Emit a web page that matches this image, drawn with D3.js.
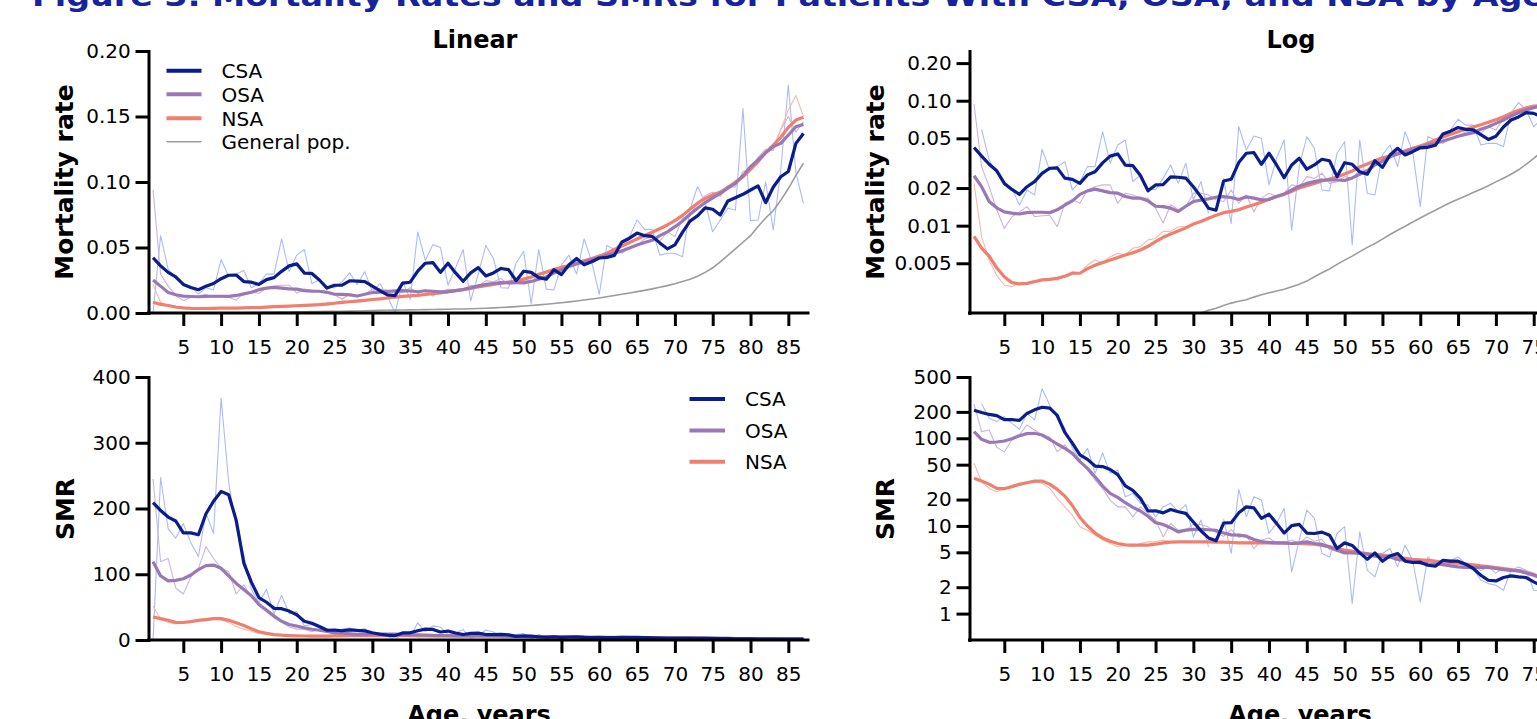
<!DOCTYPE html>
<html><head><meta charset="utf-8">
<script src="https://cdn.jsdelivr.net/npm/d3@7"></script>
<style>
body{margin:0;background:#fff;}
svg{display:block;}
text{font-family:"DejaVu Sans",Verdana,sans-serif;}
</style>
</head><body>
<svg id="chart" width="1537" height="719"></svg>
<script>
// ---------------- DATA ----------------
const titleText = "Figure 3. Mortality Rates and SMRs for Patients With CSA, OSA, and NSA by Age";
const ages = [1,2,3,4,5,6,7,8,9,10,11,12,13,14,15,16,17,18,19,20,21,22,23,24,25,26,27,28,29,30,
  31,32,33,34,35,36,37,38,39,40,41,42,43,44,45,46,47,48,49,50,51,52,53,54,55,56,57,58,59,60,
  61,62,63,64,65,66,67,68,69,70,71,72,73,74,75,76,77,78,79,80,81,82,83,84,85,86,87];
const xTicks = [5,10,15,20,25,30,35,40,45,50,55,60,65,70,75,80,85];

const csaRate = [0.0422,0.0360,0.0310,0.0275,0.0218,0.0195,0.0178,0.0205,0.0225,0.0262,
 0.0288,0.0290,0.0240,0.0235,0.0218,0.0255,0.0270,0.0318,0.0360,0.0375,
 0.0305,0.0302,0.0252,0.0190,0.0212,0.0213,0.0246,0.0244,0.0240,0.0205,
 0.0170,0.0138,0.0133,0.0228,0.0235,0.0320,0.0380,0.0385,0.0310,0.0380,
 0.0306,0.0242,0.0306,0.0346,0.0283,0.0306,0.0340,0.0331,0.0247,0.0319,
 0.0310,0.0270,0.0258,0.0331,0.0293,0.0368,0.0416,0.0368,0.0391,0.0420,
 0.0424,0.0440,0.0542,0.0571,0.0610,0.0590,0.0585,0.0535,0.0490,0.0520,
 0.0616,0.0701,0.0742,0.0802,0.0792,0.0748,0.0855,0.0880,0.0906,0.0939,
 0.0970,0.0842,0.0960,0.1040,0.1080,0.1295,0.1370];
const csaRateRaw = [0,0.0590,0.0335,0.0262,0.0225,0.0199,0.0146,0.0193,0.0176,0.0408,
 0.0279,0.0297,0.0325,0.0193,0.0225,0.0297,0.0297,0.0565,0.0316,0.0442,
 0.0485,0.0225,0.0254,0.0199,0.0193,0.0239,0.0306,0.0218,0.0316,0.0161,
 0.0225,0.0126,0,0.0240,0.0104,0.0620,0.0403,0.0522,0.0500,0.0212,
 0.0346,0.0485,0.0092,0.0297,0.0516,0.0416,0.0193,0.0190,0.0380,0.0470,
 0.0070,0.0485,0.0182,0.0176,0.0368,0.0442,0.0297,0.0565,0.0391,0.0142,
 0.0516,0.0485,0.0548,0.0583,0.0710,0.0638,0.0638,0.0442,0.0456,0.0456,
 0.0429,0.0793,0.0966,0.0843,0.0620,0.0710,0.0800,0.0786,0.1560,0.0705,
 0.0710,0.1000,0.0634,0.1090,0.1740,0.1070,0.0837];
const osaRate = [0.0251,0.0205,0.0156,0.0139,0.0129,0.0126,0.0124,0.0127,0.0128,0.0128,
 0.0127,0.0134,0.0146,0.0158,0.0178,0.0190,0.0196,0.0190,0.0184,0.0182,
 0.0171,0.0166,0.0166,0.0158,0.0143,0.0142,0.0138,0.0130,0.0143,0.0156,
 0.0160,0.0164,0.0169,0.0171,0.0168,0.0162,0.0170,0.0166,0.0161,0.0162,
 0.0171,0.0179,0.0193,0.0207,0.0218,0.0225,0.0232,0.0232,0.0232,0.0230,
 0.0241,0.0258,0.0275,0.0306,0.0329,0.0356,0.0375,0.0391,0.0408,0.0424,
 0.0442,0.0456,0.0476,0.0497,0.0519,0.0538,0.0555,0.0591,0.0619,0.0659,
 0.0701,0.0754,0.0800,0.0843,0.0879,0.0913,0.0952,0.0990,0.1048,0.1117,
 0.1168,0.1224,0.1270,0.1295,0.1359,0.1422,0.1440];
const osaRateRaw = [0.0940,0.0297,0.0205,0.0134,0.0095,0.0118,0.0129,0.0142,0.0118,0.0120,
 0.0121,0.0098,0.0151,0.0161,0.0151,0.0193,0.0205,0.0212,0.0212,0.0151,
 0.0182,0.0176,0.0166,0.0166,0.0138,0.0105,0.0147,0.0134,0.0142,0.0182,
 0.0182,0.0176,0.0161,0.0156,0.0193,0.0151,0.0176,0.0129,0.0166,0.0182,
 0.0171,0.0182,0.0212,0.0205,0.0247,0.0239,0.0263,0.0218,0.0225,0.0247,
 0.0239,0.0279,0.0279,0.0325,0.0356,0.0346,0.0403,0.0380,0.0416,0.0442,
 0.0429,0.0470,0.0456,0.0500,0.0516,0.0565,0.0583,0.0548,0.0620,0.0583,
 0.0723,0.0745,0.0843,0.0895,0.0922,0.0890,0.0970,0.0960,0.1080,0.1100,
 0.1190,0.1250,0.1240,0.1400,0.1500,0.1380,0.1460];
const nsaRate = [0.0082,0.0066,0.0057,0.0046,0.0039,0.0035,0.00342,0.00345,0.00356,0.00368,
 0.00372,0.00379,0.00394,0.00416,0.00416,0.00453,0.00482,0.00506,0.00531,0.00555,
 0.00583,0.00608,0.00639,0.00684,0.00745,0.00807,0.00858,0.00907,0.0096,0.0103,
 0.0108,0.01146,0.0121,0.0127,0.0130,0.0134,0.0141,0.0147,0.0154,0.0163,
 0.0171,0.0178,0.0188,0.0200,0.0209,0.0218,0.0228,0.0236,0.0245,0.0259,
 0.0274,0.0295,0.0312,0.0331,0.0350,0.0361,0.0380,0.0398,0.0416,0.0434,
 0.0456,0.0485,0.0512,0.0538,0.0565,0.0591,0.0616,0.0643,0.0672,0.0705,
 0.0745,0.0793,0.0838,0.0874,0.0902,0.0921,0.0960,0.0998,0.1040,0.1097,
 0.1155,0.1224,0.1282,0.1341,0.1417,0.1473,0.1494];
const nsaRateRaw = [0.0218,0.00817,0.00531,0.0040,0.00335,0.00325,0.00346,0.0035,0.00363,0.00368,
 0.00379,0.00368,0.0039,0.00429,0.00416,0.00485,0.00531,0.0050,0.00565,0.0060,
 0.00584,0.0066,0.0068,0.0077,0.0079,0.0090,0.0090,0.0098,0.0098,0.0105,
 0.0106,0.0117,0.0119,0.0130,0.0127,0.0137,0.0139,0.0150,0.0152,0.0166,
 0.0169,0.0181,0.0185,0.0204,0.0206,0.0222,0.0225,0.0240,0.0242,0.0263,
 0.0270,0.0299,0.0308,0.0336,0.0346,0.0366,0.0376,0.0403,0.0412,0.0440,
 0.0451,0.0491,0.0506,0.0545,0.0559,0.0598,0.0610,0.0651,0.0665,0.0714,
 0.0737,0.0802,0.0829,0.0884,0.0893,0.0935,0.0950,0.1012,0.1030,0.1110,
 0.1145,0.1238,0.1270,0.1400,0.1550,0.1660,0.1500];
const genPop = [0.00020,0.00018,0.00017,0.00015,0.00014,0.00012,0.00011,0.00011,0.00011,0.00012,
 0.00013,0.00016,0.00021,0.00027,0.00035,0.00045,0.00056,0.00068,0.00080,0.00091,
 0.00100,0.00108,0.00115,0.00122,0.00130,0.00138,0.00146,0.00155,0.00170,0.00185,
 0.00200,0.00210,0.00218,0.00230,0.00240,0.00248,0.00255,0.00268,0.00280,0.00290,
 0.00300,0.00310,0.00325,0.00340,0.00360,0.00390,0.00420,0.00450,0.00490,0.00530,
 0.00570,0.00620,0.00670,0.00720,0.00780,0.00850,0.00920,0.00990,0.01070,0.01150,
 0.01240,0.01330,0.01430,0.01530,0.01630,0.01730,0.01840,0.01960,0.02090,0.02240,
 0.02400,0.02580,0.02800,0.03100,0.03450,0.03900,0.04400,0.04900,0.05400,0.05900,
 0.06600,0.07250,0.07800,0.08600,0.09500,0.10500,0.11430];

const csaSmr = [209,197,187,181,163,163,160,192,211,226,
 221,182,117,88,64.6,57.4,48.2,47.6,44,38.5,
 28.6,25.5,20.6,14.8,14.9,14.1,15.4,14.5,13.9,11.1,
 8.8,7.3,6.76,10.8,10.9,14.1,16.5,16.1,12.2,13.6,
 10.7,8.3,10.1,10.4,8.3,8.2,8.5,7.85,5.53,6.41,
 5.99,4.93,4.17,4.93,3.96,4.55,4.85,3.96,3.83,3.86,
 3.56,3.47,4.06,3.96,3.96,3.66,3.27,2.74,2.4,2.36,
 2.58,2.69,2.62,2.58,2.3,2.1,2.0,1.85,1.7,1.6,
 1.5,1.25,1.3,1.25,1.2,1.3,1.25];
const csaSmrRaw = [0,247,169,155,177,148,127,193,162,368,
 240,170,130,77,56.5,77,39.8,68,39.8,43.4,
 21.5,23.5,18.1,17.3,12.7,16.5,18.1,14.5,17.5,7.5,
 11.7,5.8,0,12,4.85,26.1,12.7,21.5,19.7,8.2,
 10.7,15.8,2.99,6.9,15.2,12.2,4.85,4.43,8.2,9.8,
 1.3,8.6,3.12,2.62,4.85,5.53,3.41,6.04,4.06,1.36,
 4.43,3.73,3.73,4.06,4.43,3.73,3.27,2.4,2.2,2.11,
 1.85,3.12,3.41,3.12,1.85,1.82,1.82,1.6,2.89,1.19,
 1.08,1.38,0.81,1.27,1.83,1.02,0.73];
const osaSmr = [119,97.4,90,90.7,93.1,98.9,107,113,114,109,
 97.4,86,76.9,67.4,54.1,45.4,36.4,28.5,23.5,21.2,
 18.4,16.3,14.8,12.9,10.9,10.4,9.5,8.56,8.95,9.12,
 9.12,9.05,8.89,8.3,7.91,7.85,7.64,7.01,6.65,6.47,
 6.41,6.41,6.31,6.41,6.59,6.31,6.15,5.77,5.29,4.93,
 4.93,4.85,4.76,4.52,4.43,4.43,4.14,4.04,3.93,3.79,
 3.69,3.66,3.63,3.5,3.41,3.36,3.36,3.36,3.36,3.27,
 3.18,3.12,3.07,2.91,2.74,2.55,2.38,2.22,2.08,1.96,
 1.84,1.74,1.64,1.54,1.46,1.38,1.30];
const osaSmrRaw = [245,119,124,79,70,95.7,109,142,124,109,
 104,70,84,64.5,56.5,43.4,33.4,26.8,19.7,16.5,
 16.5,12.7,16.5,13.9,11.7,7.5,10.7,8.95,8.95,10.5,
 10.4,9.7,8.4,7.6,9.1,7.4,7.9,5.5,6.9,7.3,
 6.4,6.5,6.9,6.3,7.5,6.7,7.0,5.4,5.1,5.3,
 4.9,5.2,4.8,4.8,4.8,4.3,4.4,3.9,4.0,3.9,
 3.6,3.8,3.5,3.5,3.4,3.5,3.5,3.1,3.4,2.9,
 3.3,3.1,3.2,3.1,2.9,2.5,2.45,2.15,2.15,1.95,
 1.85,1.78,1.6,1.66,1.6,1.3,1.28];
const nsaSmr = [34.9,32.5,30,26.8,26.6,28,29.8,31.1,32.5,32.5,
 30,26.1,21.9,17.1,12.5,10,8.3,7.3,6.7,6.31,
 6.08,6.03,6.03,6.03,6.19,6.41,6.53,6.59,6.59,6.59,
 6.59,6.59,6.53,6.53,6.47,6.41,6.41,6.41,6.41,6.41,
 6.41,6.36,6.31,6.31,6.25,6.19,5.99,5.77,5.47,5.29,
 5.15,4.93,4.85,4.72,4.64,4.52,4.4,4.28,4.17,4.1,
 4.04,3.96,3.86,3.79,3.76,3.66,3.59,3.5,3.44,3.36,
 3.27,3.18,3.07,2.94,2.79,2.6,2.42,2.25,2.1,1.98,
 1.86,1.76,1.67,1.58,1.50,1.42,1.34];
const nsaSmrRaw = [51.8,31.9,26.8,24.5,26.8,29.3,30.6,31.9,31.9,30.6,
 26.8,20.6,16.5,13.3,9.8,8.95,7.85,6.9,6.31,5.8,
 6.04,5.8,6.31,6.58,6.58,6.9,6.58,6.58,6.58,6.65,
 6.52,6.72,6.45,6.65,6.40,6.50,6.33,6.50,6.33,6.48,
 6.30,6.44,6.22,6.40,6.18,6.30,5.92,5.85,5.40,5.38,
 5.08,5.00,4.78,4.79,4.58,4.58,4.34,4.34,4.12,4.15,
 3.99,4.00,3.82,3.84,3.71,3.70,3.54,3.54,3.40,3.40,
 3.23,3.21,3.03,2.98,2.76,2.62,2.40,2.27,2.08,2.0,
 1.84,1.78,1.66,1.62,1.55,1.48,1.32];

const rateLinTicks = [0, 0.05, 0.10, 0.15, 0.20];
const rateLinLabels = ["0.00","0.05","0.10","0.15","0.20"];
const rateLogTicks = [0.005, 0.01, 0.02, 0.05, 0.10, 0.20];
const rateLogLabels = ["0.005","0.01","0.02","0.05","0.10","0.20"];
const smrLinTicks = [0, 100, 200, 300, 400];
const smrLogTicks = [1, 2, 5, 10, 20, 50, 100, 200, 500];

// ---------------- STYLE ----------------
const C = {csa:"#0b1c8c", osa:"#9a78b6", nsa:"#f07f6e", gen:"#9c9c9c",
           csaRaw:"#aabcf8", osaRaw:"#cdb4da", nsaRaw:"#f7b8ad", title:"#17239b"};

const svg = d3.select("#chart");
svg.append("rect").attr("width",1537).attr("height",719).attr("fill","#fff");

svg.append("text").attr("x",32).attr("y",6)
  .attr("fill",C.title).attr("font-weight","bold").attr("font-size",28)
  .attr("textLength",1513).attr("lengthAdjust","spacingAndGlyphs")
  .text(titleText);

function zip(vals){ return ages.map((a,i)=>({a:a, v:vals[i]})); }

const panels = [
  {id:"p1", x0:148.5, top:51, bottom:313, log:false, domain:[0,0.2], ticks:rateLinTicks, labels:rateLinLabels,
   raw:[csaRateRaw,osaRateRaw,nsaRateRaw], main:[nsaRate,osaRate,csaRate], gen:genPop,
   ylabel:"Mortality rate", ylx:72.5, yly:182, title:"Linear", tx:475},
  {id:"p2", x0:969.5, top:51, bottom:313, log:true, domain:[0.002,0.25], ticks:rateLogTicks, labels:rateLogLabels,
   raw:[csaRateRaw,osaRateRaw,nsaRateRaw], main:[nsaRate,osaRate,csaRate], gen:genPop,
   ylabel:"Mortality rate", ylx:884, yly:182, title:"Log", tx:1291},
  {id:"p3", x0:148.5, top:377, bottom:640, log:false, domain:[0,400], ticks:smrLinTicks, labels:smrLinTicks.map(String),
   raw:[csaSmrRaw,osaSmrRaw,nsaSmrRaw], main:[nsaSmr,osaSmr,csaSmr], gen:null,
   ylabel:"SMR", ylx:73.5, yly:509, title:null},
  {id:"p4", x0:969.5, top:377, bottom:640, log:true, domain:[0.5,500], ticks:smrLogTicks, labels:smrLogTicks.map(String),
   raw:[csaSmrRaw,osaSmrRaw,nsaSmrRaw], main:[nsaSmr,osaSmr,csaSmr], gen:null,
   ylabel:"SMR", ylx:894, yly:509, title:null}
];

const rawColors = [C.csaRaw, C.osaRaw, C.nsaRaw];
const mainColors = [C.nsa, C.osa, C.csa];

panels.forEach(p=>{
  const x = d3.scaleLinear().domain([0.4, 87.6]).range([p.x0, p.x0 + 659.5]);
  const y = (p.log ? d3.scaleLog() : d3.scaleLinear()).domain(p.domain).range([p.bottom, p.top]);

  const clip = svg.append("clipPath").attr("id","clip-"+p.id)
    .append("rect").attr("x",p.x0+1).attr("y",p.top-2).attr("width",700).attr("height",p.bottom-p.top+1);
  const g = svg.append("g").attr("clip-path","url(#clip-"+p.id+")");

  const line = d3.line().x(d=>x(d.a)).y(d=>y(d.v))
    .defined(d=> p.log ? d.v > 0 : true);

  p.raw.forEach((s,i)=>{
    g.append("path").datum(zip(s)).attr("d",line)
      .attr("fill","none").attr("stroke",rawColors[i]).attr("stroke-width",1.1)
      .attr("stroke-linejoin","round");
  });
  if (p.gen){
    g.append("path").datum(zip(p.gen)).attr("d",line)
      .attr("fill","none").attr("stroke",C.gen).attr("stroke-width",1.6);
  }
  p.main.forEach((s,i)=>{
    g.append("path").datum(zip(s)).attr("d",line)
      .attr("fill","none").attr("stroke",mainColors[i]).attr("stroke-width",3.2)
      .attr("stroke-linejoin","round");
  });

  // axes
  const xAxis = d3.axisBottom(x).tickValues(xTicks).tickSize(13).tickSizeOuter(0).tickPadding(13.5)
    .tickFormat(d3.format("d"));
  const gx = svg.append("g").attr("transform","translate(0,"+p.bottom+")").call(xAxis);
  const yAxis = d3.axisLeft(y).tickValues(p.ticks).tickSize(13).tickSizeOuter(0).tickPadding(4.8)
    .tickFormat((d,i)=>p.labels[i]);
  const gy = svg.append("g").attr("transform","translate("+p.x0+",0)").call(yAxis);

  [gx,gy].forEach(ax=>{
    ax.select(".domain").attr("stroke","#000").attr("stroke-width",3).attr("stroke-linecap","square");
    ax.selectAll(".tick line").attr("stroke","#000").attr("stroke-width",3);
    ax.selectAll(".tick text").attr("fill","#000").attr("font-size",20)
      .attr("font-family","'DejaVu Sans',Verdana,sans-serif");
  });
  gx.select(".domain").attr("d","M"+(p.x0)+",0H"+(p.x0+659.5));

  svg.append("text").attr("transform","translate("+p.ylx+","+p.yly+") rotate(-90)")
    .attr("text-anchor","middle").attr("font-weight","bold").attr("font-size",25).attr("fill","#000")
    .text(p.ylabel);

  if (p.title){
    svg.append("text").attr("x",p.tx).attr("y",48).attr("text-anchor","middle")
      .attr("font-weight","bold").attr("font-size",24).attr("fill","#000").text(p.title);
  }
});

// x-axis titles (bottom, partly cut)
[479, 1300].forEach(cx=>{
  svg.append("text").attr("x",cx).attr("y",723).attr("text-anchor","middle")
    .attr("font-weight","bold").attr("font-size",24).attr("fill","#000").text("Age, years");
});

// legends
const legendTop = [
  {name:"CSA", color:C.csa, w:4}, {name:"OSA", color:C.osa, w:4},
  {name:"NSA", color:C.nsa, w:4}, {name:"General pop.", color:C.gen, w:1.6}
];
const legTopY = [70.7, 94.3, 118.3, 141.7];
legendTop.forEach((d,i)=>{
  svg.append("line").attr("x1",166.5).attr("x2",201.5).attr("y1",legTopY[i]).attr("y2",legTopY[i])
    .attr("stroke",d.color).attr("stroke-width",d.w);
  svg.append("text").attr("x",221.5).attr("y",legTopY[i]).attr("dy","0.36em")
    .attr("font-size",20).attr("fill","#000").text(d.name);
});
const legendBot = legendTop.slice(0,3);
const legBotY = [399, 430.5, 461.7];
legendBot.forEach((d,i)=>{
  svg.append("line").attr("x1",689.5).attr("x2",725).attr("y1",legBotY[i]).attr("y2",legBotY[i])
    .attr("stroke",d.color).attr("stroke-width",d.w);
  svg.append("text").attr("x",745).attr("y",legBotY[i]).attr("dy","0.36em")
    .attr("font-size",20).attr("fill","#000").text(d.name);
});
</script>
</body></html>
